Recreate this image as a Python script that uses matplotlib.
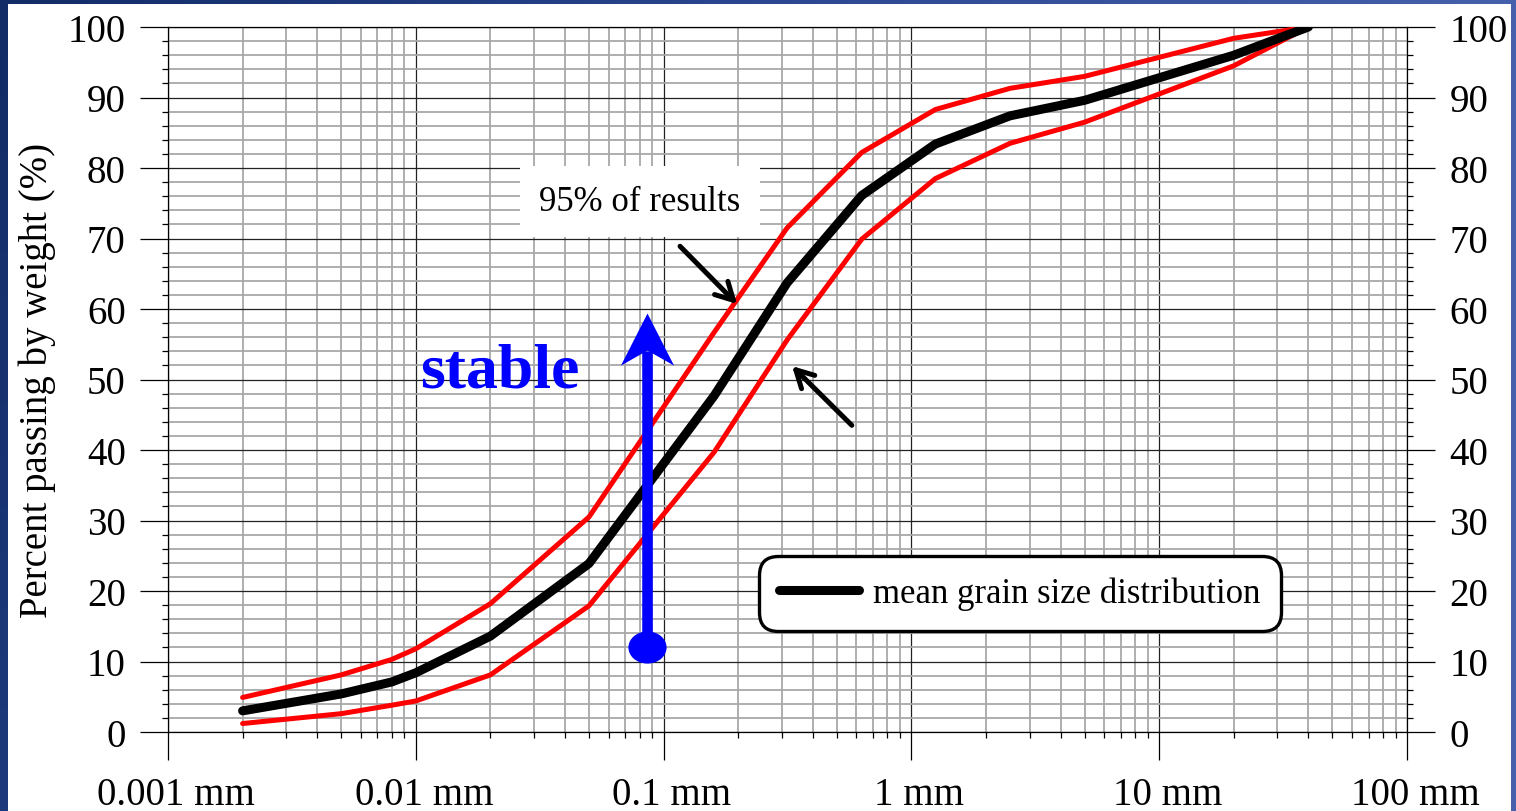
import numpy as np
import matplotlib
matplotlib.use("Agg")
import matplotlib.pyplot as plt
from matplotlib.path import Path
from matplotlib.markers import MarkerStyle
from matplotlib.patches import Rectangle, FancyArrowPatch
from matplotlib.colors import LinearSegmentedColormap
from matplotlib.ticker import FixedLocator, NullFormatter
from matplotlib.transforms import ScaledTranslation

# ---------------- data ----------------
sizes_mm = [0.002, 0.005, 0.008, 0.01, 0.02, 0.05, 0.16, 0.315, 0.63, 1.25, 2.5, 5, 10, 20, 40]
mean_pass = [3.0, 5.4, 7.1, 8.4, 13.6, 23.9, 47.7, 63.7, 76.1, 83.4, 87.4, 89.6, 92.8, 96.0, 100]
upper_pass = [4.9, 8.1, 10.3, 11.8, 18.2, 30.5, 56.7, 71.5, 82.2, 88.3, 91.3, 93.0, 95.7, 98.4, 100]
lower_pass = [1.2, 2.6, 3.8, 4.4, 8.1, 17.9, 39.7, 55.6, 69.9, 78.5, 83.5, 86.5, 90.5, 94.5, 100]

x_tick_vals = [0.001, 0.01, 0.1, 1, 10, 100]
x_tick_labels = ["0.001 mm", "0.01 mm", "0.1 mm", "1 mm", "10 mm", "100 mm"]
y_tick_vals = list(range(0, 101, 10))
y_label = "Percent passing by weight (%)"
legend_label = "mean grain size distribution"
band_label = "95% of results"
stable_label = "stable"

# annotation anchors (data coords)
stable_arrow_x = 0.0855
stable_arrow_y0 = 12.0
stable_arrow_y1 = 59.5
band_arrow1 = ((0.1165, 68.9), (0.198, 60.7))
band_arrow2 = ((0.575, 43.5), (0.330, 51.9))

plt.rcParams['font.family'] = ['Liberation Serif', 'DejaVu Serif']

W, H, DPI = 1516, 812, 100
fig = plt.figure(figsize=(W / DPI, H / DPI), dpi=DPI)

# background: blue gradient with white panel
bg = fig.add_axes([0, 0, 1, 1], zorder=-10)
cmap = LinearSegmentedColormap.from_list("bg", ["#112c66", "#2c4690", "#4660ac"])
grad = np.linspace(0, 1, 256)[None, :] * np.ones((16, 1))
grad = grad + np.linspace(0, 0.25, 16)[:, None]
bg.imshow(np.clip(grad, 0, 1), aspect='auto', cmap=cmap, extent=[0, 1, 0, 1], origin='upper')
bg.add_patch(Rectangle((8 / W, 0), (1511 - 8) / W, (812 - 5) / H, transform=bg.transAxes,
                       facecolor='white', edgecolor='none'))
bg.set_xlim(0, 1); bg.set_ylim(0, 1)
bg.axis('off')

L, R, T, B = 168, 1407, 28, 733
ax = fig.add_axes([L / W, (H - B) / H, (R - L) / W, (B - T) / H])
ax.set_facecolor('white')
ax.set_xscale('log')
ax.set_xlim(0.001, 100)
ax.set_ylim(0, 100)

ax.xaxis.set_major_locator(FixedLocator(x_tick_vals))
ax.set_xticklabels(x_tick_labels)
minor_x = [m * d for d in [0.001, 0.01, 0.1, 1, 10] for m in range(2, 10)]
ax.xaxis.set_minor_locator(FixedLocator(minor_x))
ax.xaxis.set_minor_formatter(NullFormatter())
ax.set_yticks(y_tick_vals)
ax.yaxis.set_minor_locator(FixedLocator([v for v in range(0, 101, 2) if v % 10]))

ax.grid(which='major', color='#222222', lw=0.9)
ax.grid(which='minor', color='#a8a8a8', lw=1.3)
ax.set_axisbelow(True)

for s in ax.spines.values():
    s.set_color('black'); s.set_linewidth(0.9)

ax.tick_params(axis='both', which='major', direction='out', length=20.5, width=0.9,
               labelsize=28, color='black')
ax.tick_params(axis='both', which='minor', direction='out', length=4, width=0.9, color='black')
ax.tick_params(axis='y', which='both', left=True, right=True, labelleft=True, labelright=True)
ax.tick_params(axis='y', which='major', pad=10)
ax.tick_params(axis='x', which='major', pad=11)
ax.tick_params(axis='x', which='both', top=False)

# labels in the original sit slightly right of their ticks
shift = ScaledTranslation(8 / DPI, 0, fig.dpi_scale_trans)
for lab in ax.get_xticklabels():
    lab.set_transform(lab.get_transform() + shift)

ax.set_ylabel(y_label, fontsize=28, labelpad=8)

# curves
ax.plot(sizes_mm, upper_pass, color='#ff0000', lw=3.6, solid_capstyle='round',
        solid_joinstyle='round', zorder=3)
ax.plot(sizes_mm, lower_pass, color='#ff0000', lw=3.6, solid_capstyle='round',
        solid_joinstyle='round', zorder=3)
ax.plot(sizes_mm, mean_pass, color='black', lw=6.5, solid_capstyle='round',
        solid_joinstyle='round', zorder=4, label=legend_label)

leg = ax.legend(loc='center', bbox_to_anchor=(0.6877, 0.197), fontsize=25,
                handlelength=2.3, handletextpad=0.4, borderpad=0.6,
                fancybox=True, framealpha=1, edgecolor='black')
leg.get_frame().set_linewidth(2.4)
leg.get_frame().set_boxstyle('round', pad=0.0, rounding_size=0.55)
leg.set_zorder(6)

# band label
ax.text(0.0803, 75.2, band_label, fontsize=25, ha='center', va='center', zorder=5,
        bbox=dict(boxstyle='square,pad=0.55', facecolor='white', edgecolor='none'))

# black arrows
for (tail, head) in (band_arrow1, band_arrow2):
    arr = FancyArrowPatch(tail, head, arrowstyle='->,head_length=0.5,head_width=0.27',
                          mutation_scale=25, lw=3.6, color='black', capstyle='round',
                          joinstyle='round', shrinkA=0, shrinkB=0, zorder=6)
    ax.add_patch(arr)

# stable arrow
ax.plot([stable_arrow_x, stable_arrow_x], [stable_arrow_y0, stable_arrow_y1 - 5.5],
        color='#0000ff', lw=7.6, solid_capstyle='butt', zorder=6)
ell = Path.unit_circle()
ell = Path(ell.vertices * np.array([1.0, 32 / 38]), ell.codes)
ax.plot([stable_arrow_x], [stable_arrow_y0], marker=MarkerStyle(ell), markersize=27.5,
        color='#0000ff', markeredgewidth=0, zorder=6)
head = Path([(0, 0), (26.5, -52), (0, -37), (-26.5, -52), (0, 0)],
            [Path.MOVETO, Path.LINETO, Path.LINETO, Path.LINETO, Path.CLOSEPOLY])
ax.plot([stable_arrow_x], [stable_arrow_y1], marker=MarkerStyle(head), markersize=75,
        color='#0000ff', markeredgewidth=0, zorder=6)

ax.text(0.0219, 51.2, stable_label, fontsize=46, fontweight='bold', color='#0000ff',
        ha='center', va='center', zorder=6)

fig.savefig('out.png', dpi=DPI)
